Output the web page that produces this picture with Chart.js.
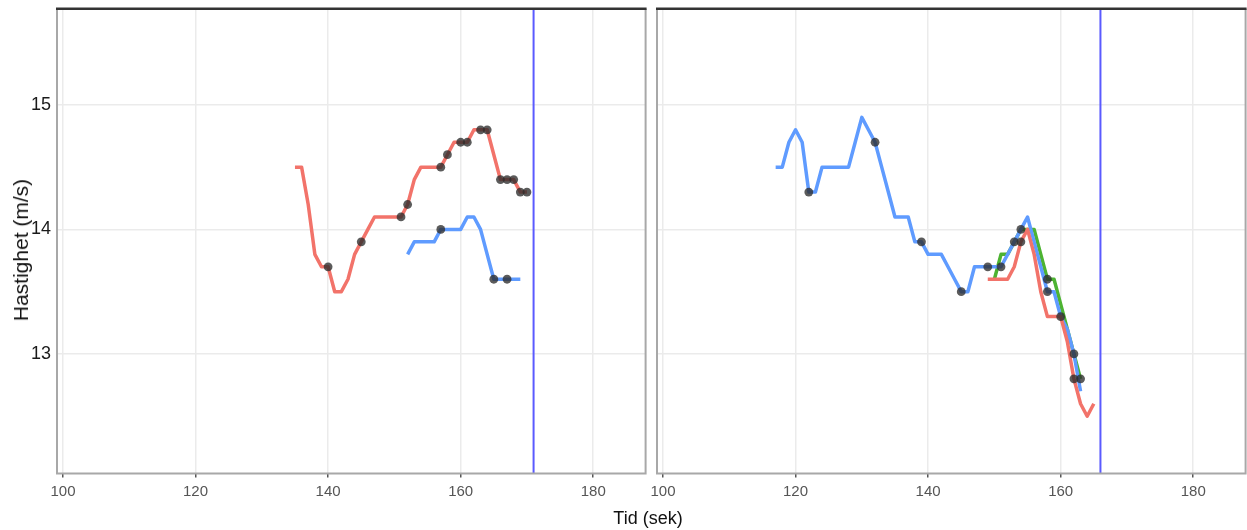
<!DOCTYPE html>
<html><head><meta charset="utf-8">
<script src="https://cdn.jsdelivr.net/npm/chart.js@4.4.1/dist/chart.umd.min.js"></script>
<style>
html,body{margin:0;padding:0;background:#fff;}
body{width:1247px;height:530px;position:relative;overflow:hidden;}
canvas{position:absolute;top:0;}
#cl{left:0;}
#cr{left:650px;}
#xt{position:absolute;left:548px;width:200px;top:507px;text-align:center;font:18px "Liberation Sans",Arial,sans-serif;color:#111;line-height:22px;}
#yt{position:absolute;left:21px;top:250px;transform:translate(-50%,-50%) rotate(-90deg);white-space:nowrap;font:21px "Liberation Sans",Arial,sans-serif;color:#111;line-height:24px;}
</style></head>
<body>
<canvas id="cl" width="650" height="530"></canvas>
<canvas id="cr" width="600" height="530"></canvas>
<div id="xt">Tid (sek)</div>
<div id="yt">Hastighet (m/s)</div>
<script>
// ---- tick labels ----
const xTicks = [100, 120, 140, 160, 180];
const yTicks = [13, 14, 15];

// ---- left panel ----
const leftRedT = [135,136,137,138,139,140,141,142,143,144,145,146,147,148,149,150,151,152,153,154,155,156,157,158,159,160,161,162,163,164,165,166,167,168,169,170];
const leftRedV = [14.5,14.5,14.2,13.8,13.7,13.7,13.5,13.5,13.6,13.8,13.9,14.0,14.1,14.1,14.1,14.1,14.1,14.2,14.4,14.5,14.5,14.5,14.5,14.6,14.7,14.7,14.7,14.8,14.8,14.8,14.6,14.4,14.4,14.4,14.3,14.3];
const leftRedDots = [140,145,151,152,157,158,160,161,163,164,166,167,168,169,170];

const leftBlueT = [152,153,154,155,156,157,158,159,160,161,162,163,164,165,166,167,168,169];
const leftBlueV = [13.8,13.9,13.9,13.9,13.9,14.0,14.0,14.0,14.0,14.1,14.1,14.0,13.8,13.6,13.6,13.6,13.6,13.6];
const leftBlueDots = [157,165,167];

const leftCutoff = 171;

// ---- right panel ----
const rightBlueT = [117,118,119,120,121,122,123,124,125,126,127,128,129,130,131,132,133,134,135,136,137,138,139,140,141,142,143,144,145,146,147,148,149,150,151,152,153,154,155,156,157,158,159,160,161,162,163];
const rightBlueV = [14.5,14.5,14.7,14.8,14.7,14.3,14.3,14.5,14.5,14.5,14.5,14.5,14.7,14.9,14.8,14.7,14.5,14.3,14.1,14.1,14.1,13.9,13.9,13.8,13.8,13.8,13.7,13.6,13.5,13.5,13.7,13.7,13.7,13.7,13.7,13.8,13.9,14.0,14.1,13.9,13.7,13.5,13.5,13.3,13.2,13.0,12.7];
const rightBlueDots = [122,132,139,145,149,151,153,154,158,162];

const rightGreenT = [150,151,152,153,154,155,156,157,158,159,160,161,162,163];
const rightGreenV = [13.6,13.8,13.8,13.9,14.0,14.0,14.0,13.8,13.6,13.6,13.4,13.2,13.0,12.8];
const rightGreenDots = [158,163];

const rightRedT = [149,150,151,152,153,154,155,156,157,158,159,160,161,162,163,164,165];
const rightRedV = [13.6,13.6,13.6,13.6,13.7,13.9,14.0,13.8,13.5,13.3,13.3,13.3,13.1,12.8,12.6,12.5,12.6];
const rightRedDots = [154,160,162];

const rightCutoff = 166;

// ---- styling ----
const RED = '#F2736A', BLUE = '#5F9BFF', GREEN = '#4DB332', CUT = '#5A5AFF';
const X_MIN = 99.1, X_MAX = 187.9, Y_MIN = 12.04, Y_MAX = 15.77;

function line(T, V, color, order) {
  return { data: T.map((t, i) => ({x: t, y: V[i]})), showLine: true, borderColor: color,
    borderWidth: 3.5, pointRadius: 0, tension: 0, order, borderJoinStyle: 'round', borderCapStyle: 'butt' };
}
function dots(D, T, V) {
  return { data: D.map(t => ({x: t, y: V[T.indexOf(t)]})), showLine: false, pointRadius: 4.4,
    pointBackgroundColor: 'rgba(45,45,45,0.78)', pointBorderWidth: 0, order: 0 };
}
function cutoff(x) {
  return { data: [{x: x, y: Y_MIN}, {x: x, y: Y_MAX}], showLine: true, borderColor: CUT,
    borderWidth: 2, pointRadius: 0, order: 1 };
}

const framePlugin = {
  id: 'frame',
  afterDraw(chart) {
    const {ctx, chartArea: a} = chart;
    ctx.save();
    ctx.strokeStyle = '#A8A8A8';
    ctx.lineWidth = 2;
    ctx.beginPath();
    ctx.moveTo(a.left, a.top); ctx.lineTo(a.left, a.bottom); ctx.lineTo(a.right, a.bottom); ctx.lineTo(a.right, a.top);
    ctx.stroke();
    ctx.fillStyle = '#9a9a9a';
    ctx.fillRect(a.left - 1, a.top - 2, a.right - a.left + 2, 1);
    ctx.fillStyle = '#333';
    ctx.fillRect(a.left - 1, a.top - 1, a.right - a.left + 2, 2);
    ctx.restore();
  }
};

function noPad(s) { s.paddingLeft = 0; s.paddingRight = 0; s.paddingTop = 0; s.paddingBottom = 0; }

function makeChart(id, datasets, isLeft) {
  return new Chart(document.getElementById(id), {
    type: 'scatter',
    data: { datasets },
    options: {
      responsive: false, animation: false, devicePixelRatio: 1, events: [],
      layout: { padding: { top: 9, right: 4, left: 0, bottom: 0 } },
      plugins: { legend: { display: false }, tooltip: { enabled: false } },
      scales: {
        x: {
          type: 'linear', min: X_MIN, max: X_MAX,
          afterBuildTicks: s => { s.ticks = xTicks.map(v => ({value: v})); },
          afterFit: s => { s.height = 56.5; noPad(s); },
          ticks: { color: '#555', font: { family: 'Liberation Sans', size: 15 }, padding: 5, maxRotation: 0, autoSkip: false },
          grid: { color: '#EBEBEB', lineWidth: 1.5, tickColor: '#555', tickLength: 4, tickWidth: 1.5 },
          border: { display: false }
        },
        y: {
          type: 'linear', min: Y_MIN, max: Y_MAX,
          afterBuildTicks: s => { s.ticks = yTicks.map(v => ({value: v})); },
          afterFit: s => { s.width = isLeft ? 57 : 7; noPad(s); },
          ticks: { display: isLeft, color: '#1a1a1a', font: { family: "'Liberation Sans Narrow', 'Liberation Sans'", size: 18 }, padding: 6 },
          grid: { color: '#EBEBEB', lineWidth: 1.5, drawTicks: false },
          border: { display: false }
        }
      }
    },
    plugins: [framePlugin]
  });
}

makeChart('cl', [
  dots(leftRedDots, leftRedT, leftRedV),
  dots(leftBlueDots, leftBlueT, leftBlueV),
  cutoff(leftCutoff),
  line(leftRedT, leftRedV, RED, 2),
  line(leftBlueT, leftBlueV, BLUE, 3)
], true);

makeChart('cr', [
  dots(rightBlueDots, rightBlueT, rightBlueV),
  dots(rightRedDots, rightRedT, rightRedV),
  dots(rightGreenDots, rightGreenT, rightGreenV),
  cutoff(rightCutoff),
  line(rightRedT, rightRedV, RED, 2),
  line(rightBlueT, rightBlueV, BLUE, 3),
  line(rightGreenT, rightGreenV, GREEN, 4)
], false);
</script>
</body></html>
